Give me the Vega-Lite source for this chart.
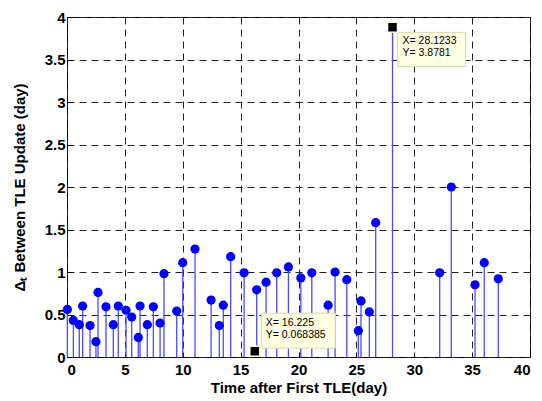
{
  "$schema": "https://vega.github.io/schema/vega-lite/v6.json",
  "width": 463,
  "height": 340,
  "autosize": {"type": "none"},
  "padding": {"left": 67, "top": 17, "right": 12, "bottom": 44},
  "background": "white",
  "config": {
    "view": {"stroke": "black", "strokeWidth": 1},
    "font": "Liberation Sans"
  },
  "datasets": {
    "pts": [
      {"t": 0.03, "d": 0.56}, {"t": 0.55, "d": 0.43}, {"t": 1.06, "d": 0.38}, {"t": 1.35, "d": 0.60},
      {"t": 1.99, "d": 0.37}, {"t": 2.5, "d": 0.18}, {"t": 2.68, "d": 0.76}, {"t": 3.37, "d": 0.59},
      {"t": 4.0, "d": 0.38}, {"t": 4.43, "d": 0.60}, {"t": 5.1, "d": 0.55}, {"t": 5.59, "d": 0.47},
      {"t": 6.16, "d": 0.23}, {"t": 6.31, "d": 0.60}, {"t": 6.94, "d": 0.38}, {"t": 7.46, "d": 0.59},
      {"t": 8.04, "d": 0.40}, {"t": 8.38, "d": 0.98}, {"t": 9.48, "d": 0.54}, {"t": 10.0, "d": 1.11},
      {"t": 11.06, "d": 1.27}, {"t": 12.45, "d": 0.67}, {"t": 13.16, "d": 0.37}, {"t": 13.5, "d": 0.61},
      {"t": 14.14, "d": 1.18}, {"t": 15.3, "d": 0.99}, {"t": 16.225, "d": 0.068385}, {"t": 16.39, "d": 0.79},
      {"t": 17.2, "d": 0.88}, {"t": 18.12, "d": 0.99}, {"t": 19.13, "d": 1.06}, {"t": 20.2, "d": 0.93},
      {"t": 21.15, "d": 0.99}, {"t": 22.56, "d": 0.61}, {"t": 23.16, "d": 1.0}, {"t": 24.17, "d": 0.91},
      {"t": 25.17, "d": 0.31}, {"t": 25.4, "d": 0.66}, {"t": 26.12, "d": 0.53}, {"t": 26.67, "d": 1.58},
      {"t": 28.1233, "d": 3.8781}, {"t": 32.2, "d": 0.99}, {"t": 33.2, "d": 2.0}, {"t": 35.25, "d": 0.85},
      {"t": 36.05, "d": 1.11}, {"t": 37.26, "d": 0.92}
    ],
    "tipA": [{"t": 28.1233, "d": 3.8781, "label": ["X= 28.1233", "Y= 3.8781"]}],
    "tipB": [{"t": 16.225, "d": 0.068385, "label": ["X= 16.225", "Y= 0.068385"]}]
  },
  "encoding": {
    "x": {
      "field": "t", "type": "quantitative",
      "scale": {"domain": [0, 40], "nice": false, "zero": false},
      "axis": {
        "title": "Time after First TLE(day)", "values": [0, 5, 10, 15, 20, 25, 30, 35, 40],
        "grid": true, "gridDash": [7, 5], "gridColor": "#222", "gridOpacity": 1,
        "domain": false, "ticks": true, "tickSize": -5, "tickColor": "black", "labelPadding": 10,
        "labelFont": "Liberation Sans", "labelFontWeight": "bold", "labelFontSize": 15, "labelColor": "black",
        "titleFont": "Liberation Sans", "titleFontWeight": "bold", "titleFontSize": 15, "titleColor": "black", "titlePadding": 3
      }
    },
    "y": {
      "field": "d", "type": "quantitative",
      "scale": {"domain": [0, 4], "nice": false},
      "axis": {
        "title": "Δₜ Between TLE Update (day)", "values": [0, 0.5, 1, 1.5, 2, 2.5, 3, 3.5, 4], "format": ".1~f",
        "grid": true, "gridDash": [7, 5], "gridColor": "#222", "gridOpacity": 1,
        "domain": false, "ticks": true, "tickSize": -5, "tickColor": "black", "labelPadding": 7,
        "labelFont": "Liberation Sans", "labelFontWeight": "bold", "labelFontSize": 15, "labelColor": "black",
        "titleFont": "Liberation Sans", "titleFontWeight": "bold", "titleFontSize": 15, "titleColor": "black", "titlePadding": 17
      }
    }
  },
  "layer": [
    {
      "data": {"name": "pts"},
      "mark": {"type": "rule", "color": "#4a4aff", "strokeWidth": 1.3},
      "encoding": {"y2": {"datum": 0}}
    },
    {
      "data": {"name": "pts"},
      "mark": {"type": "point", "shape": "circle", "filled": true, "color": "#0000ff", "opacity": 1, "size": 85}
    },
    {
      "data": {"name": "tipA"},
      "mark": {"type": "point", "shape": "M-1,-0.5L1,-0.5L1,0.5L-1,0.5Z", "size": 4624, "filled": true, "fill": "#ffffe1", "stroke": "#d8d8b0", "strokeWidth": 1, "opacity": 1, "xOffset": 39, "yOffset": 22}
    },
    {
      "data": {"name": "tipB"},
      "mark": {"type": "point", "shape": "M-1,-0.473L1,-0.473L1,0.473L-1,0.473Z", "size": 5476, "filled": true, "fill": "#ffffe1", "stroke": "#d8d8b0", "strokeWidth": 1, "opacity": 1, "xOffset": 43.5, "yOffset": -20.5}
    },
    {
      "data": {"name": "tipA"},
      "mark": {"type": "point", "shape": "square", "size": 100, "filled": true, "fill": "black", "stroke": "#ffffe1", "strokeWidth": 1.5, "opacity": 1}
    },
    {
      "data": {"name": "tipB"},
      "mark": {"type": "point", "shape": "square", "size": 100, "filled": true, "fill": "black", "stroke": "#ffffe1", "strokeWidth": 1.5, "opacity": 1}
    },
    {
      "data": {"name": "tipA"},
      "mark": {"type": "text", "align": "left", "baseline": "top", "dx": 10, "dy": 9, "fontSize": 10.5, "lineHeight": 11.5, "color": "black", "font": "Liberation Sans"},
      "encoding": {"text": {"field": "label"}}
    },
    {
      "data": {"name": "tipB"},
      "mark": {"type": "text", "align": "left", "baseline": "top", "dx": 11, "dy": -33, "fontSize": 10.5, "lineHeight": 12, "color": "black", "font": "Liberation Sans"},
      "encoding": {"text": {"field": "label"}}
    }
  ]
}
